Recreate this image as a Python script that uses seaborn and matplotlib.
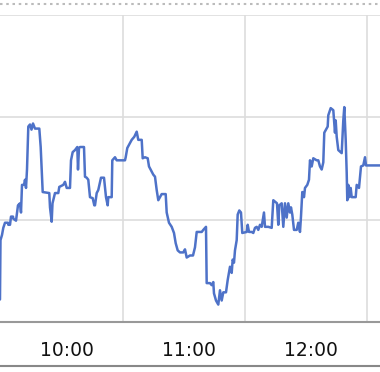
import matplotlib
matplotlib.use("Agg")
import matplotlib.pyplot as plt
from matplotlib.lines import Line2D
import seaborn as sns
import pandas as pd

# minutes after 10:00
minutes = [
    -0.5, -0.25, 0.49, 1.13, 1.97, 3.44, 3.59, 4.43, 4.92, 5.90, 6.05, 7.38, 8.36, 9.34, 9.84,
    10.33, 11.31, 11.80, 12.30, 12.79, 13.43, 14.26, 15.00, 15.74, 16.72, 18.84, 19.52, 20.51,
    23.75, 24.10, 24.93, 25.33, 26.56, 28.18, 28.67, 30.64, 31.48, 32.31, 33.93, 34.43, 35.26,
    36.39, 37.52, 37.87, 38.36, 38.85, 40.82, 41.31, 42.15, 42.93, 43.77, 45.10, 45.89,
    46.23, 47.07, 47.85, 49.18, 50.66, 51.64, 52.47, 52.77, 54.44, 54.74, 56.07, 56.90, 60.98,
    61.33, 62.11, 63.44, 64.28, 65.56, 66.74, 67.52, 69.20, 69.69, 70.82, 72.15, 72.79, 74.11,
    74.90, 75.74, 76.57, 77.36, 78.20, 79.03, 81.00, 81.49, 82.62, 83.95, 85.08, 85.92, 86.90,
    88.03, 89.66, 90.49, 91.33, 92.95,
    94.43, 95.41, 96.25, 98.71, 99.49, 100.82, 101.16, 102.78, 103.62, 104.41, 104.75, 105.74,
    106.87, 107.70, 108.54, 109.33, 110.66, 111.49, 112.62, 113.46, 113.95, 114.59, 115.08,
    115.92, 116.41, 117.20, 118.03, 118.67, 120.84, 121.33, 121.97, 123.30, 124.08, 124.92,
    125.76, 126.54, 127.38, 128.21, 129.34, 129.84, 131.46, 133.13, 133.92, 135.74, 136.38,
    136.87, 138.05, 138.84, 139.67,
    140.51, 141.29, 142.13, 142.62, 143.26, 144.10, 145.43, 146.21, 147.05, 147.54, 148.18,
    149.02, 149.51, 150.64, 151.47, 151.97, 152.80, 153.59, 155.26, 156.05, 156.88, 157.72,
    158.51, 159.00, 159.84, 160.67, 160.97, 162.15, 163.43, 164.26, 164.61, 165.10, 165.89,
    167.56, 168.35, 168.84, 169.53, 170.02, 170.31, 170.80, 171.29, 171.98, 172.48, 174.44,
    174.94, 176.07, 177.05, 178.18, 179.02, 179.51, 186.4,
]
values = [
    0.22, 0.80, 0.85, 0.92, 0.97, 0.97, 0.95, 0.95, 1.03, 1.03, 1.01, 0.99, 1.14, 1.16, 1.07,
    1.34, 1.34, 1.39, 1.31, 1.49, 1.91, 1.93, 1.88, 1.94, 1.89, 1.89, 1.71, 1.27,
    1.26, 1.12, 0.98, 1.16, 1.26, 1.26, 1.32, 1.34, 1.37, 1.31, 1.31, 1.58, 1.66,
    1.68, 1.71, 1.49, 1.70, 1.71, 1.71, 1.42, 1.41, 1.39, 1.22, 1.21, 1.14,
    1.14, 1.26, 1.29, 1.41, 1.41, 1.22, 1.14, 1.22, 1.22, 1.58, 1.61, 1.58, 1.58,
    1.61, 1.70, 1.75, 1.78, 1.81, 1.86, 1.78, 1.78, 1.60, 1.61, 1.60, 1.52, 1.47,
    1.44, 1.42, 1.29, 1.19, 1.22, 1.25, 1.25, 1.07, 0.97, 0.93, 0.87, 0.77, 0.70,
    0.68, 0.68, 0.71, 0.63, 0.65,
    0.65, 0.73, 0.88, 0.88, 0.90, 0.93, 0.38, 0.38, 0.36, 0.39, 0.28, 0.21,
    0.17, 0.31, 0.21, 0.29, 0.29, 0.41, 0.54, 0.48, 0.61, 0.58, 0.70,
    0.80, 1.05, 1.09, 1.07, 0.87, 0.88, 0.95, 0.88, 0.88, 0.87, 0.92,
    0.93, 0.90, 0.95, 0.93, 1.07, 0.93, 0.93, 0.92, 1.19, 1.16, 0.95,
    1.14, 1.16, 0.93, 1.16,
    1.02, 1.16, 1.07, 1.12, 1.05, 0.90, 0.90, 0.97, 0.88, 1.03, 1.27,
    1.22, 1.31, 1.34, 1.39, 1.58, 1.52, 1.60, 1.58, 1.58, 1.52, 1.49,
    1.56, 1.85, 1.88, 1.91, 2.02, 2.09, 2.07, 1.85, 1.97, 1.81, 1.68,
    1.65, 1.97, 2.10, 1.78, 1.46, 1.19, 1.34, 1.22, 1.31, 1.22, 1.22,
    1.34, 1.31, 1.52, 1.53, 1.61, 1.53, 1.53,
]
hour_ticks = [60, 120, 180]
label_pos = [32.5, 92.5, 152.5]
hour_labels = ["10:00", "11:00", "12:00"]

df = pd.DataFrame({"minute": minutes, "value": values})

sns.set_style("white")
plt.rcParams["font.family"] = ["DejaVu Sans"]

fig = plt.figure(figsize=(3.8, 3.72), dpi=100)
ax = fig.add_axes([0, (372 - 322) / 372, 1, (322 - 15) / 372])

sns.lineplot(data=df, x="minute", y="value", ax=ax, estimator=None, sort=False,
             color="#4e72c8", linewidth=1.8)

ax.set_xlim(-0.49, 186.4)
ax.set_ylim(0, 3)
ax.set_xlabel("")
ax.set_ylabel("")
ax.set_yticks([0, 1, 2, 3])
ax.set_yticklabels([])
ax.tick_params(axis="y", length=0)
ax.set_xticks(hour_ticks)
ax.set_xticklabels([])
ax.set_xticks(label_pos, minor=True)
ax.set_xticklabels(hour_labels, minor=True, fontsize=13.5, color="#111111")
ax.tick_params(axis="x", which="major", length=7.5, width=1.2, color="#aaaaaa", direction="out")
ax.tick_params(axis="x", which="minor", length=0, pad=14)
ax.grid(True, which="major", color="#dddddd", linewidth=1.2)
ax.set_axisbelow(True)
for s in ["top", "left", "right"]:
    ax.spines[s].set_visible(False)
ax.spines["bottom"].set_color("#999999")
ax.spines["bottom"].set_linewidth(1.5)

# frame decorations: dotted rule at top, solid rule at bottom
fig.add_artist(Line2D([0, 1], [1 - 4 / 372, 1 - 4 / 372], transform=fig.transFigure,
                      color="#bbbbbb", linewidth=1.5, linestyle=(0, (1.2, 1.8))))
fig.add_artist(Line2D([0, 1], [1 - 366 / 372, 1 - 366 / 372], transform=fig.transFigure,
                      color="#888888", linewidth=1.5))

fig.savefig("out.png", dpi=100)
